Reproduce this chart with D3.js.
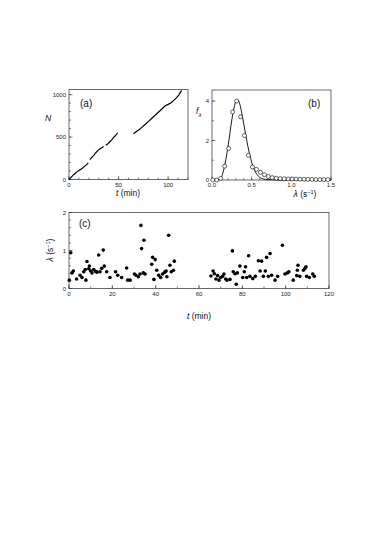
<!DOCTYPE html>
<html>
<head>
<meta charset="utf-8">
<script src="https://cdn.jsdelivr.net/npm/d3@7"></script>
<style>
  body { margin: 0; background: #fff; }
  svg { display: block; font-family: 'Liberation Sans', Arial, sans-serif; }
  .tick-label { font-size: 6px; fill: #222; }
  .title { font-size: 8.5px; fill: #111; }
  .panel { font-size: 10px; fill: #111; }
</style>
</head>
<body>
<div id="chart"></div>
<script>
// (a) cumulative number of events, recorded in separate stretches
const countSegments = [
  [[0, 0], [2, 25], [4, 48], [6, 70], [8, 90], [10, 105], [12, 122], [14, 138], [16, 158], [18, 178], [19.5, 195]],
  [[21, 235], [23, 260], [25, 285], [27, 315], [29, 340], [31, 360], [33, 375], [35, 388]],
  [[37, 402], [39, 418], [41, 442], [43, 467], [45, 495], [47, 520], [49, 548]],
  [[65, 540], [68, 565], [71, 590], [74, 620], [77, 650], [80, 682], [83, 715], [86, 748], [89, 780],
   [92, 812], [95, 845], [97, 868], [100, 885], [103, 905], [106, 935], [109, 970], [111, 1000], [113.5, 1050]]
];

// (b) rate histogram (circles) and fitted curve
const lambdaBins = [0.01, 0.06, 0.11, 0.16, 0.21, 0.26, 0.31, 0.36, 0.41, 0.46, 0.51, 0.56, 0.61, 0.66, 0.71,
  0.76, 0.81, 0.86, 0.91, 0.96, 1.01, 1.06, 1.11, 1.16, 1.21, 1.26, 1.31, 1.36, 1.41, 1.46];
const lambdaFreq = [0, 0, 0.08, 0.7, 1.6, 3.45, 4.0, 3.2, 2.25, 1.25, 0.66, 0.54, 0.39, 0.27, 0.18,
  0.12, 0.09, 0.07, 0.06, 0.05, 0.05, 0.05, 0.04, 0.04, 0.03, 0.03, 0.02, 0.02, 0.02, 0.02];
const fitLambda = [0, 0.05, 0.1, 0.125, 0.15, 0.175, 0.2, 0.225, 0.25, 0.275, 0.3, 0.325, 0.35, 0.375, 0.4,
  0.425, 0.45, 0.475, 0.5, 0.525, 0.55, 0.575, 0.6, 0.65, 0.7, 0.8, 0.9, 1.5];
const fitFreq = [0, 0, 0.05, 0.2, 0.55, 1.05, 1.65, 2.35, 3.05, 3.6, 3.97, 4.07, 3.85, 3.4, 2.85,
  2.3, 1.75, 1.3, 0.9, 0.6, 0.38, 0.24, 0.14, 0.05, 0.02, 0.005, 0, 0];

// (c) rate versus time
const rateTimes = [0.15, 0.8, 1.4, 2.0, 3.5, 5.1, 6.0, 6.8, 7.5, 7.8, 8.3, 9.1, 9.4, 10, 10.6, 11.4, 12.3, 12.9,
  13.7, 14.3, 15.1, 15.8, 16.3, 17.4, 18.9, 21.5, 22.5, 24.3, 26.6, 27.1, 28.2, 30.2, 30.9, 32, 32.8, 33.2,
  33.5, 34.3, 34.6, 35.1, 38.2, 38.6, 39.2, 39.8, 40.5, 41.4, 42.3, 43.2, 44.2, 44.8, 45.2, 46.0, 46.6, 47.2,
  48.2, 48.6,
  65.5, 66.5, 67.1, 67.8, 68.6, 69.2, 70, 70.9, 71.5, 72.3, 72.9, 74.3, 75.4, 75.8, 76.6, 77.2, 77.7, 78.9,
  80.2, 80.9, 81.5, 82, 82.9, 83.5, 84.8, 86, 87.4, 88.2, 88.9, 89.7, 90.6, 91.2, 92, 92.8, 93.5, 95.1, 96.3,
  98.5, 99.7, 100.8, 101.5, 103.5, 105.1, 105.4, 105.7, 106.5, 108.2, 108.9, 109.4, 109.7, 110.9, 112.5, 113.2];
const rateValues = [0.22, 0.94, 0.41, 0.46, 0.25, 0.35, 0.29, 0.44, 0.5, 0.22, 0.71, 0.52, 0.59, 0.46, 0.41, 0.5,
  0.45, 0.43, 0.88, 0.44, 0.53, 1.01, 0.59, 0.44, 0.29, 0.44, 0.35, 0.29, 0.54, 0.22, 0.22, 0.38, 0.35, 0.31,
  0.38, 1.66, 1.05, 0.41, 1.27, 0.38, 0.64, 0.82, 0.24, 0.76, 0.48, 0.35, 0.29, 0.38, 0.43, 0.46, 0.31, 1.40,
  0.61, 0.44, 0.48, 0.72,
  0.33, 0.46, 0.39, 0.25, 0.34, 0.22, 0.29, 0.32, 0.38, 0.25, 0.22, 0.24, 0.99, 0.44, 0.39, 0.11, 0.41, 0.59,
  0.29, 0.44, 0.57, 0.29, 0.86, 0.32, 0.26, 0.32, 0.73, 0.46, 0.72, 0.32, 0.46, 0.82, 0.32, 0.92, 0.35, 0.22,
  0.32, 1.14, 0.38, 0.41, 0.44, 0.22, 0.34, 0.48, 0.61, 0.32, 0.48, 0.53, 0.57, 0.32, 0.29, 0.38, 0.32];

const W = 374, H = 538;
const svg = d3.select('#chart').append('svg').attr('width', W).attr('height', H);

// draws frame, inward ticks and tick labels for one panel
function frame(x, y, o) {
  const [x0, x1] = x.range(), [y0, y1] = y.range();
  const g = svg.append('g');
  g.append('rect')
    .attr('x', x0).attr('y', y1).attr('width', x1 - x0).attr('height', y0 - y1)
    .attr('fill', 'none').attr('stroke', '#444').attr('stroke-width', 0.8);
  const tk = g.append('g').attr('stroke', '#333').attr('stroke-width', 0.6);
  o.xMinor.forEach(v => tk.append('line').attr('x1', x(v)).attr('x2', x(v)).attr('y1', y0).attr('y2', y0 - 2));
  o.yMinor.forEach(v => tk.append('line').attr('y1', y(v)).attr('y2', y(v)).attr('x1', x0).attr('x2', x0 + 2));
  o.xMajor.forEach(v => tk.append('line').attr('x1', x(v)).attr('x2', x(v)).attr('y1', y0).attr('y2', y0 - 3.5));
  o.yMajor.forEach(v => tk.append('line').attr('y1', y(v)).attr('y2', y(v)).attr('x1', x0).attr('x2', x0 + 3.5));
  o.xMajor.forEach(v => g.append('text').attr('class', 'tick-label')
    .attr('x', x(v)).attr('y', y0 + 7).attr('text-anchor', 'middle').text(o.xFmt(v)));
  o.yMajor.forEach(v => g.append('text').attr('class', 'tick-label')
    .attr('x', x0 - 3).attr('y', y(v) + 2).attr('text-anchor', 'end').text(o.yFmt(v)));
  return g;
}

const range = (a, b, s) => d3.range(a, b + s / 2, s);
const lambdaTitle = (sel) => {
  sel.append('tspan').attr('font-style', 'italic').text('λ');
  sel.append('tspan').text(' (s');
  sel.append('tspan').attr('font-size', '5.5px').attr('dy', -3.2).text('−1');
  sel.append('tspan').attr('dy', 3.2).text(')');
};

// ---- panel (a)
const xa = d3.scaleLinear().domain([0, 120]).range([69, 188]);
const ya = d3.scaleLinear().domain([0, 1060]).range([179.5, 89.5]);
frame(xa, ya, {
  xMajor: [0, 50, 100], xMinor: range(0, 120, 10), yMajor: [0, 500, 1000], yMinor: range(0, 1000, 100),
  xFmt: d3.format('d'), yFmt: d3.format('d')
});
const lineA = d3.line().x(d => xa(d[0])).y(d => ya(d[1]));
svg.append('g').selectAll('path').data(countSegments).join('path')
  .attr('d', lineA).attr('fill', 'none').attr('stroke', '#000').attr('stroke-width', 1.2);
svg.append('text').attr('class', 'panel').attr('x', 80).attr('y', 107).text('(a)');
svg.append('text').attr('class', 'title').attr('x', 128).attr('y', 196).attr('text-anchor', 'middle')
  .call(s => { s.append('tspan').attr('font-style', 'italic').text('t'); s.append('tspan').text(' (min)'); });
svg.append('text').attr('class', 'title').attr('x', 48).attr('y', 121).attr('font-size', '10px')
  .attr('font-style', 'italic').attr('text-anchor', 'middle').text('N');

// ---- panel (b)
const xb = d3.scaleLinear().domain([0, 1.5]).range([212, 331]);
const yb = d3.scaleLinear().domain([0, 4.56]).range([180, 90]);
frame(xb, yb, {
  xMajor: [0, 0.5, 1, 1.5], xMinor: range(0, 1.5, 0.1), yMajor: [0, 2, 4], yMinor: range(0, 4.5, 1),
  xFmt: d3.format('.1f'), yFmt: d3.format('d')
});
const fit = fitLambda.map((l, i) => [l, fitFreq[i]]);
svg.append('path').datum(fit)
  .attr('d', d3.line().x(d => xb(d[0])).y(d => yb(d[1])).curve(d3.curveMonotoneX))
  .attr('fill', 'none').attr('stroke', '#000').attr('stroke-width', 0.9);
svg.append('g').selectAll('circle').data(lambdaBins.map((l, i) => [l, lambdaFreq[i]])).join('circle')
  .attr('cx', d => xb(d[0])).attr('cy', d => yb(d[1])).attr('r', 2)
  .attr('fill', '#fff').attr('stroke', '#000').attr('stroke-width', 0.6);
svg.append('text').attr('class', 'panel').attr('x', 308).attr('y', 107).text('(b)');
svg.append('text').attr('class', 'title').attr('x', 305).attr('y', 197).attr('text-anchor', 'middle').call(lambdaTitle);
svg.append('text').attr('class', 'title').attr('x', 196).attr('y', 114).attr('font-style', 'italic')
  .call(s => { s.append('tspan').text('f'); s.append('tspan').attr('font-size', '6px').attr('dy', 2.5).text('λ'); });

// ---- panel (c)
const xc = d3.scaleLinear().domain([0, 120]).range([69, 329]);
const yc = d3.scaleLinear().domain([0, 2]).range([288.5, 212.5]);
frame(xc, yc, {
  xMajor: range(0, 120, 20), xMinor: range(0, 120, 10), yMajor: [0, 1, 2], yMinor: range(0, 2, 0.2),
  xFmt: d3.format('d'), yFmt: d3.format('d')
});
svg.append('g').selectAll('circle').data(rateTimes.map((t, i) => [t, rateValues[i]])).join('circle')
  .attr('cx', d => xc(d[0])).attr('cy', d => yc(d[1])).attr('r', 1.8).attr('fill', '#000');
svg.append('text').attr('class', 'panel').attr('x', 79).attr('y', 227).text('(c)');
svg.append('text').attr('class', 'title').attr('x', 199).attr('y', 319).attr('text-anchor', 'middle')
  .call(s => { s.append('tspan').attr('font-style', 'italic').text('t'); s.append('tspan').text(' (min)'); });
svg.append('text').attr('class', 'title').attr('transform', 'translate(53,250) rotate(-90)')
  .attr('text-anchor', 'middle').call(lambdaTitle);
</script>
</body>
</html>
